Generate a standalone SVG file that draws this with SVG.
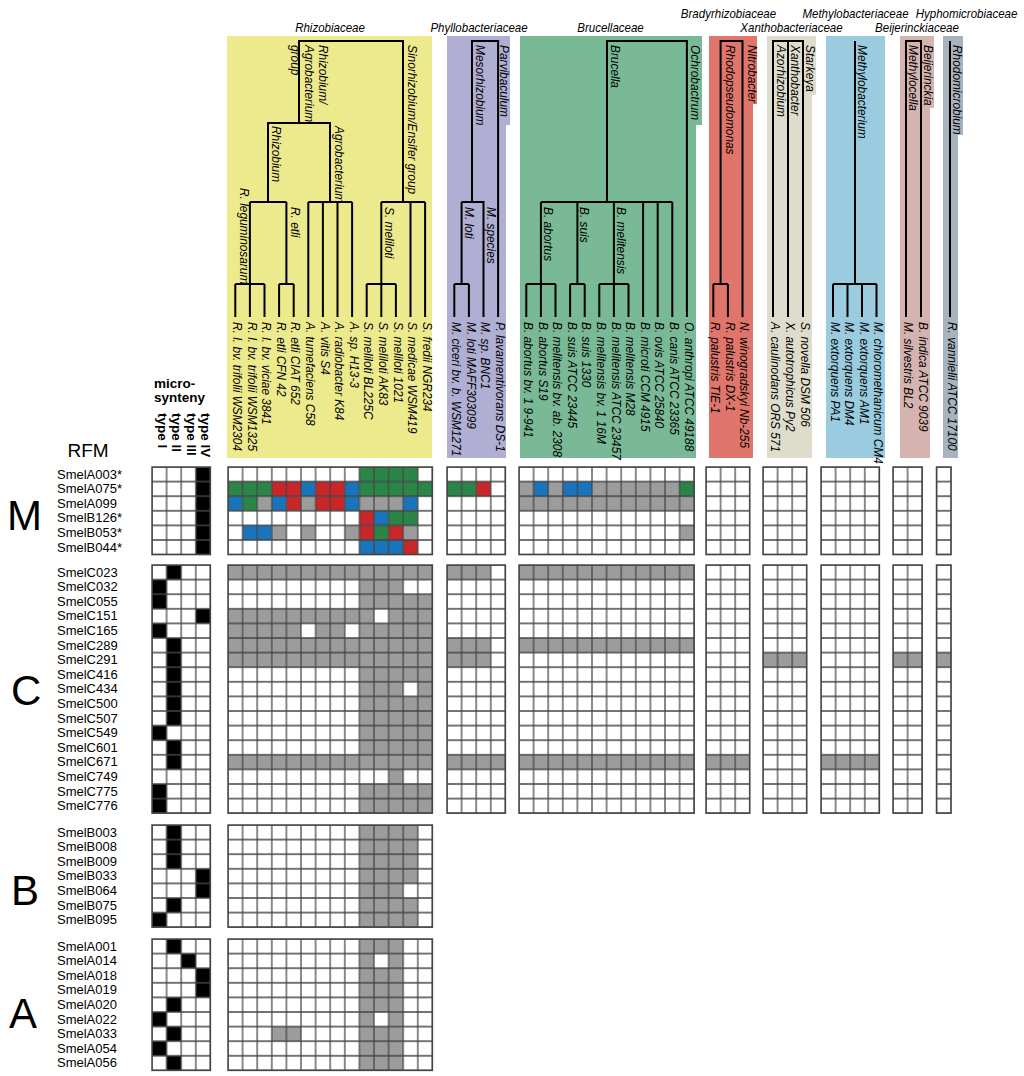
<svg xmlns="http://www.w3.org/2000/svg" width="1024" height="1076" viewBox="0 0 1024 1076">
<style>
.g{fill:#2a8646}.r{fill:#c9262a}.b{fill:#1a74bb}.y{fill:#9c9c9c}.k{fill:#000}.w{fill:#fff}
.grid{fill:url(#grid);stroke:#444;stroke-width:0.1}
.bg{fill:#fff}
.tree{fill:none;stroke:#000;stroke-width:2}
.it{font-family:"Liberation Sans",Arial,sans-serif;font-style:italic;font-size:13.2px;fill:#000}
.fam{font-family:"Liberation Sans",Arial,sans-serif;font-style:italic;font-size:12.8px;fill:#000;text-anchor:middle}
.row{font-family:"Liberation Sans",Arial,sans-serif;font-size:13px;fill:#000}
.bold{font-family:"Liberation Sans",Arial,sans-serif;font-weight:bold;font-size:13.5px;fill:#000}
.big{font-family:"Liberation Sans",Arial,sans-serif;font-size:42px;fill:#000}
</style>
<defs>
<pattern id="grid" width="1" height="1" patternUnits="userSpaceOnUse"><path d="M0 0H1V1H0Z" fill="none" stroke="#444" stroke-width="0.085"/></pattern>
</defs>
<rect width="1024" height="1076" fill="#fff"/>

<g id="boxes">
<path id="box-rhizo" d="M227 36H432V458H227Z" fill="#ede98d"/>
<path id="box-phyllo" d="M447 36H510V125H506V458H447Z" fill="#b0aed2"/>
<path id="box-bruc" d="M520 36H702V125H696V458H520Z" fill="#79b996"/>
<path id="box-brady" d="M709 36H757V104H753V458H709Z" fill="#e0766b"/>
<path id="box-xantho" d="M767 36H816V95H812V458H767Z" fill="#deddcb"/>
<path id="box-methylo" d="M826 36H885V458H826Z" fill="#9acbde"/>
<path id="box-beijer" d="M900 36H934V108H930V458H900Z" fill="#d5b4b0"/>
<path id="box-hypho" d="M943 36H963V135H958V458H943Z" fill="#a7b4be"/>
</g>

<g id="family-labels">
<text class="fam" transform="translate(330,32) scale(0.9,1)">Rhizobiaceae</text>
<text class="fam" transform="translate(479,32) scale(0.9,1)">Phyllobacteriaceae</text>
<text class="fam" transform="translate(610.5,32) scale(0.9,1)">Brucellaceae</text>
<text class="fam" transform="translate(728.5,18) scale(0.9,1)">Bradyrhizobiaceae</text>
<text class="fam" transform="translate(791.5,32) scale(0.9,1)">Xanthobacteriaceae</text>
<text class="fam" transform="translate(855.5,18) scale(0.9,1)">Methylobacteriaceae</text>
<text class="fam" transform="translate(966.5,18) scale(0.9,1)">Hyphomicrobiaceae</text>
<text class="fam" transform="translate(917,32) scale(0.9,1)">Beijerinckiaceae</text>
</g>

<g id="connectors" class="tree">
<path d="M299 123V41H403V202"/>
<path d="M268 202V123H330V202"/>
<path d="M249.9 202H286.4M249.9 202V317M235.3 284H264.5M235.3 284V317M264.5 284V317"/>
<path d="M286.4 202V284M279.1 284H293.7M279.1 284V317M293.7 284V317"/>
<path d="M308.3 202H352.1M308.3 202V317M322.9 202V317M337.5 202V317M352.1 202V317"/>
<path d="M381.3 202H425.1M381.3 202V317M366.7 284H395.9M366.7 284V317M395.9 284V317M410.5 202V317M425.1 202V317"/>
<path d="M472 202V41H498.1V317M461.6 202H483.5V317M461.6 202V284M454.3 284H468.9M454.3 284V317M468.9 284V317"/>
<path d="M607 202V41H686.9V317M540.9 202H672.3"/>
<path d="M540.9 202V317M526.3 284H555.5M526.3 284V317M555.5 284V317"/>
<path d="M577.4 202V284M570.1 284H584.7M570.1 284V317M584.7 284V317"/>
<path d="M613.9 202V317M599.3 284H628.5M599.3 284V317M628.5 284V317"/>
<path d="M643.1 202V317M657.7 202V317M672.3 202V317"/>
<path d="M720.6 284V41H742.5V317M713.3 284H727.9M713.3 284V317M727.9 284V317"/>
<path d="M773 317V41H803V317M788 41V317"/>
<path d="M855 41V284M833 284H876.5M833 284V317M847.5 284V317M862 284V317M876.5 284V317"/>
<path d="M906 317V41H921V317"/>
<path d="M950 41V317"/>
</g>

<g id="clade-labels">
<text class="it" transform="translate(319,45) rotate(90) scale(0.9,1)">Rhizobium/</text>
<text class="it" transform="translate(305,45) rotate(90) scale(0.9,1)">Agrobacterium</text>
<text class="it" transform="translate(291,45) rotate(90) scale(0.9,1)">group</text>
<text class="it" transform="translate(407.5,45) rotate(90) scale(0.9,1)">Sinorhizobium/Ensifer group</text>
<text class="it" transform="translate(271.5,126) rotate(90) scale(0.9,1)">Rhizobium</text>
<text class="it" transform="translate(335,126) rotate(90) scale(0.9,1)">Agrobacterium</text>
<text class="it" transform="translate(240,188) rotate(90) scale(0.9,1)">R. leguminosarum</text>
<text class="it" transform="translate(290.5,207) rotate(90) scale(0.9,1)">R. etli</text>
<text class="it" transform="translate(384.5,207) rotate(90) scale(0.9,1)">S. meliloti</text>
<text class="it" transform="translate(476,45) rotate(90) scale(0.9,1)">Mesorhizobium</text>
<text class="it" transform="translate(500,45) rotate(90) scale(0.9,1)">Parvibaculum</text>
<text class="it" transform="translate(465,207) rotate(90) scale(0.9,1)">M. loti</text>
<text class="it" transform="translate(486.5,207) rotate(90) scale(0.9,1)">M. species</text>
<text class="it" transform="translate(610.5,45) rotate(90) scale(0.9,1)">Brucella</text>
<text class="it" transform="translate(691,45) rotate(90) scale(0.9,1)">Ochrobactrum</text>
<text class="it" transform="translate(544,207) rotate(90) scale(0.9,1)">B. abortus</text>
<text class="it" transform="translate(580,207) rotate(90) scale(0.9,1)">B. suis</text>
<text class="it" transform="translate(617,207) rotate(90) scale(0.9,1)">B. melitensis</text>
<text class="it" transform="translate(725.5,45) rotate(90) scale(0.9,1)">Rhodopseudomonas</text>
<text class="it" transform="translate(748,45) rotate(90) scale(0.9,1)">Nitrobacter</text>
<text class="it" transform="translate(777,45) rotate(90) scale(0.9,1)">Azorhizobium</text>
<text class="it" transform="translate(791,45) rotate(90) scale(0.9,1)">Xanthobacter</text>
<text class="it" transform="translate(806,45) rotate(90) scale(0.9,1)">Starkeya</text>
<text class="it" transform="translate(858,45) rotate(90) scale(0.9,1)">Methylobacterium</text>
<text class="it" transform="translate(909,45) rotate(90) scale(0.9,1)">Methylocella</text>
<text class="it" transform="translate(924,45) rotate(90) scale(0.9,1)">Beijerinckia</text>
<text class="it" transform="translate(953,45) rotate(90) scale(0.9,1)">Rhodomicrobium</text>
</g>

<g id="leaf-labels">
<text class="it" transform="translate(233,322) rotate(90) scale(0.9,1)">R. l. bv. trifolii WSM2304</text>
<text class="it" transform="translate(247.6,322) rotate(90) scale(0.9,1)">R. l. bv. trifolii WSM1325</text>
<text class="it" transform="translate(262.2,322) rotate(90) scale(0.9,1)">R. l. bv. viciae 3841</text>
<text class="it" transform="translate(276.8,322) rotate(90) scale(0.9,1)">R. etli CFN 42</text>
<text class="it" transform="translate(291.4,322) rotate(90) scale(0.9,1)">R. etli CIAT 652</text>
<text class="it" transform="translate(306,322) rotate(90) scale(0.9,1)">A. tumefaciens C58</text>
<text class="it" transform="translate(320.6,322) rotate(90) scale(0.9,1)">A. vitis S4</text>
<text class="it" transform="translate(335.2,322) rotate(90) scale(0.9,1)">A. radiobacter K84</text>
<text class="it" transform="translate(349.8,322) rotate(90) scale(0.9,1)">A. sp. H13-3</text>
<text class="it" transform="translate(364.4,322) rotate(90) scale(0.9,1)">S. meliloti BL225C</text>
<text class="it" transform="translate(379,322) rotate(90) scale(0.9,1)">S. meliloti AK83</text>
<text class="it" transform="translate(393.6,322) rotate(90) scale(0.9,1)">S. meliloti 1021</text>
<text class="it" transform="translate(408.2,322) rotate(90) scale(0.9,1)">S. medicae WSM419</text>
<text class="it" transform="translate(422.8,322) rotate(90) scale(0.9,1)">S. fredii NGR234</text>
<text class="it" transform="translate(452,322) rotate(90) scale(0.9,1)">M. ciceri bv. b. WSM1271</text>
<text class="it" transform="translate(466.6,322) rotate(90) scale(0.9,1)">M. loti MAFF303099</text>
<text class="it" transform="translate(481.2,322) rotate(90) scale(0.9,1)">M. sp. BNC1</text>
<text class="it" transform="translate(495.8,322) rotate(90) scale(0.9,1)">P. lavamentivorans DS-1</text>
<text class="it" transform="translate(524,322) rotate(90) scale(0.9,1)">B. abortus bv. 1 9-941</text>
<text class="it" transform="translate(538.6,322) rotate(90) scale(0.9,1)">B. abortus S19</text>
<text class="it" transform="translate(553.2,322) rotate(90) scale(0.9,1)">B. melitensis bv. ab. 2308</text>
<text class="it" transform="translate(567.8,322) rotate(90) scale(0.9,1)">B. suis ATCC 23445</text>
<text class="it" transform="translate(582.4,322) rotate(90) scale(0.9,1)">B. suis 1330</text>
<text class="it" transform="translate(597,322) rotate(90) scale(0.9,1)">B. melitensis bv. 1 16M</text>
<text class="it" transform="translate(611.6,322) rotate(90) scale(0.9,1)">B. melitensis ATCC 23457</text>
<text class="it" transform="translate(626.2,322) rotate(90) scale(0.9,1)">B. melitensis M28</text>
<text class="it" transform="translate(640.8,322) rotate(90) scale(0.9,1)">B. microti CCM 4915</text>
<text class="it" transform="translate(655.4,322) rotate(90) scale(0.9,1)">B. ovis ATCC 25840</text>
<text class="it" transform="translate(670,322) rotate(90) scale(0.9,1)">B. canis ATCC 23365</text>
<text class="it" transform="translate(684.6,322) rotate(90) scale(0.9,1)">O. anthropi ATCC 49188</text>
<text class="it" transform="translate(711,322) rotate(90) scale(0.9,1)">R. palustris TIE-1</text>
<text class="it" transform="translate(725.6,322) rotate(90) scale(0.9,1)">R. palustris DX-1</text>
<text class="it" transform="translate(740.2,322) rotate(90) scale(0.9,1)">N. winogradskyi Nb-255</text>
<text class="it" transform="translate(770.7,322) rotate(90) scale(0.9,1)">A. caulinodans ORS 571</text>
<text class="it" transform="translate(785.7,322) rotate(90) scale(0.9,1)">X. autotrophicus Py2</text>
<text class="it" transform="translate(800.7,322) rotate(90) scale(0.9,1)">S. novella DSM 506</text>
<text class="it" transform="translate(830.7,322) rotate(90) scale(0.9,1)">M. extorquens PA1</text>
<text class="it" transform="translate(845.2,322) rotate(90) scale(0.9,1)">M. extorquens DM4</text>
<text class="it" transform="translate(859.7,322) rotate(90) scale(0.9,1)">M. extorquens AM1</text>
<text class="it" transform="translate(874.2,322) rotate(90) scale(0.9,1)">M. chloromethanicum CM4</text>
<text class="it" transform="translate(903.7,322) rotate(90) scale(0.9,1)">M. silvestris BL2</text>
<text class="it" transform="translate(918.7,322) rotate(90) scale(0.9,1)">B. indica ATCC 9039</text>
<text class="it" transform="translate(947.7,322) rotate(90) scale(0.9,1)">R. vannielii ATCC 17100</text>
</g>

<g id="headers">
<text class="bold" x="154" y="388">micro-</text>
<text class="bold" x="154" y="402">synteny</text>
<text class="bold" transform="translate(157.5,413) rotate(90)">type I</text>
<text class="bold" transform="translate(172,413) rotate(90)">type II</text>
<text class="bold" transform="translate(186.5,413) rotate(90)">type III</text>
<text class="bold" transform="translate(201,413) rotate(90)">type IV</text>
<text class="row" x="88" y="457" style="font-size:19px" text-anchor="middle">RFM</text>
<text class="big" x="7" y="530">M</text>
<text class="big" x="11" y="705">C</text>
<text class="big" x="11" y="905">B</text>
<text class="big" x="9" y="1028">A</text>
</g>

<g id="row-labels">
<text class="row" x="57" y="478.5">SmelA003*</text>
<text class="row" x="57" y="493.1">SmelA075*</text>
<text class="row" x="57" y="507.7">SmelA099</text>
<text class="row" x="57" y="522.3">SmelB126*</text>
<text class="row" x="57" y="536.9">SmelB053*</text>
<text class="row" x="57" y="551.5">SmelB044*</text>
<text class="row" x="57" y="576.5">SmelC023</text>
<text class="row" x="57" y="591.1">SmelC032</text>
<text class="row" x="57" y="605.7">SmelC055</text>
<text class="row" x="57" y="620.3">SmelC151</text>
<text class="row" x="57" y="634.9">SmelC165</text>
<text class="row" x="57" y="649.5">SmelC289</text>
<text class="row" x="57" y="664.1">SmelC291</text>
<text class="row" x="57" y="678.7">SmelC416</text>
<text class="row" x="57" y="693.3">SmelC434</text>
<text class="row" x="57" y="707.9">SmelC500</text>
<text class="row" x="57" y="722.5">SmelC507</text>
<text class="row" x="57" y="737.1">SmelC549</text>
<text class="row" x="57" y="751.7">SmelC601</text>
<text class="row" x="57" y="766.3">SmelC671</text>
<text class="row" x="57" y="780.9">SmelC749</text>
<text class="row" x="57" y="795.5">SmelC775</text>
<text class="row" x="57" y="810.1">SmelC776</text>
<text class="row" x="57" y="836.5">SmelB003</text>
<text class="row" x="57" y="851.1">SmelB008</text>
<text class="row" x="57" y="865.7">SmelB009</text>
<text class="row" x="57" y="880.3">SmelB033</text>
<text class="row" x="57" y="894.9">SmelB064</text>
<text class="row" x="57" y="909.5">SmelB075</text>
<text class="row" x="57" y="924.1">SmelB095</text>
<text class="row" x="57" y="950.5">SmelA001</text>
<text class="row" x="57" y="965.1">SmelA014</text>
<text class="row" x="57" y="979.7">SmelA018</text>
<text class="row" x="57" y="994.3">SmelA019</text>
<text class="row" x="57" y="1008.9">SmelA020</text>
<text class="row" x="57" y="1023.5">SmelA022</text>
<text class="row" x="57" y="1038.1">SmelA033</text>
<text class="row" x="57" y="1052.7">SmelA054</text>
<text class="row" x="57" y="1067.3">SmelA056</text>
</g>

<g id="M-micro" transform="translate(152,467) scale(14.6)"><rect class="bg" width="4" height="6"/><rect class="k" x="3" width="1" height="6"/><rect class="grid" width="4" height="6"/></g>
<g id="M-rhizo" transform="translate(228,467) scale(14.6)"><rect class="bg" width="14" height="6"/>
<rect class="g" x="9" y="0" width="4" height="1"/>
<rect class="g" x="0" y="1" width="3" height="1"/><rect class="r" x="3" y="1" width="2" height="1"/><rect class="b" x="5" y="1" width="1" height="1"/><rect class="r" x="6" y="1" width="2" height="1"/><rect class="b" x="8" y="1" width="1" height="1"/><rect class="g" x="9" y="1" width="5" height="1"/>
<rect class="b" x="0" y="2" width="1" height="1"/><rect class="g" x="1" y="2" width="1" height="1"/><rect class="y" x="2" y="2" width="1" height="1"/><rect class="b" x="3" y="2" width="1" height="1"/><rect class="r" x="4" y="2" width="1" height="1"/><rect class="y" x="5" y="2" width="1" height="1"/><rect class="r" x="6" y="2" width="2" height="1"/><rect class="b" x="8" y="2" width="1" height="1"/><rect class="y" x="9" y="2" width="3" height="1"/><rect class="b" x="12" y="2" width="1" height="1"/>
<rect class="r" x="9" y="3" width="1" height="1"/><rect class="b" x="10" y="3" width="1" height="1"/><rect class="g" x="11" y="3" width="2" height="1"/>
<rect class="b" x="1" y="4" width="2" height="1"/><rect class="y" x="3" y="4" width="1" height="1"/><rect class="y" x="5" y="4" width="1" height="1"/><rect class="y" x="8" y="4" width="1" height="1"/><rect class="r" x="9" y="4" width="1" height="1"/><rect class="g" x="10" y="4" width="1" height="1"/><rect class="r" x="11" y="4" width="1" height="1"/><rect class="y" x="12" y="4" width="1" height="1"/>
<rect class="b" x="9" y="5" width="3" height="1"/><rect class="r" x="12" y="5" width="1" height="1"/>
<rect class="grid" width="14" height="6"/></g>
<g id="M-phyllo" transform="translate(447,467) scale(14.6)"><rect class="bg" width="4" height="6"/><rect class="g" x="0" y="1" width="2" height="1"/><rect class="r" x="2" y="1" width="1" height="1"/><rect class="grid" width="4" height="6"/></g>
<g id="M-bruc" transform="translate(519,467) scale(14.6)"><rect class="bg" width="12" height="6"/><rect class="y" x="0" y="1" width="12" height="2"/><rect class="b" x="1" y="1" width="1" height="1"/><rect class="b" x="3" y="1" width="2" height="1"/><rect class="g" x="11" y="1" width="1" height="1"/><rect class="y" x="11" y="4" width="1" height="1"/><rect class="grid" width="12" height="6"/></g>
<g id="M-brady" transform="translate(706,467) scale(14.6)"><rect class="bg" width="3" height="6"/><rect class="grid" width="3" height="6"/></g>
<g id="M-xantho" transform="translate(763,467) scale(14.6)"><rect class="bg" width="3" height="6"/><rect class="grid" width="3" height="6"/></g>
<g id="M-methylo" transform="translate(821,467) scale(14.6)"><rect class="bg" width="4" height="6"/><rect class="grid" width="4" height="6"/></g>
<g id="M-beijer" transform="translate(893,467) scale(14.6)"><rect class="bg" width="2" height="6"/><rect class="grid" width="2" height="6"/></g>
<g id="M-hypho" transform="translate(936.5,467) scale(14.6)"><rect class="bg" width="1" height="6"/><rect class="grid" width="1" height="6"/></g>

<g id="C-micro" transform="translate(152,565) scale(14.6)"><rect class="bg" width="4" height="17"/>
<rect class="k" x="1" y="0" width="1" height="1"/><rect class="k" x="0" y="1" width="1" height="2"/><rect class="k" x="3" y="3" width="1" height="1"/><rect class="k" x="0" y="4" width="1" height="1"/><rect class="k" x="1" y="5" width="1" height="6"/><rect class="k" x="0" y="11" width="1" height="1"/><rect class="k" x="1" y="12" width="1" height="2"/><rect class="k" x="0" y="15" width="1" height="2"/>
<rect class="grid" width="4" height="17"/></g>
<g id="C-rhizo" transform="translate(228,565) scale(14.6)"><rect class="bg" width="14" height="17"/>
<rect class="y" x="0" y="0" width="14" height="1"/><rect class="y" x="9" y="1" width="3" height="1"/><rect class="y" x="9" y="2" width="5" height="1"/><rect class="y" x="0" y="3" width="10" height="1"/><rect class="y" x="11" y="3" width="3" height="1"/><rect class="y" x="0" y="4" width="5" height="1"/><rect class="y" x="6" y="4" width="2" height="1"/><rect class="y" x="9" y="4" width="5" height="1"/><rect class="y" x="0" y="5" width="14" height="2"/><rect class="y" x="9" y="7" width="5" height="6"/><rect class="w" x="12" y="8" width="1" height="1"/><rect class="y" x="0" y="13" width="14" height="1"/><rect class="y" x="11" y="14" width="1" height="1"/><rect class="y" x="9" y="15" width="5" height="2"/>
<rect class="grid" width="14" height="17"/></g>
<g id="C-phyllo" transform="translate(447,565) scale(14.6)"><rect class="bg" width="4" height="17"/><rect class="y" x="0" y="0" width="3" height="1"/><rect class="y" x="0" y="5" width="3" height="2"/><rect class="y" x="0" y="13" width="4" height="1"/><rect class="grid" width="4" height="17"/></g>
<g id="C-bruc" transform="translate(519,565) scale(14.6)"><rect class="bg" width="12" height="17"/><rect class="y" x="0" y="0" width="12" height="1"/><rect class="y" x="0" y="5" width="12" height="1"/><rect class="y" x="0" y="13" width="12" height="1"/><rect class="grid" width="12" height="17"/></g>
<g id="C-brady" transform="translate(706,565) scale(14.6)"><rect class="bg" width="3" height="17"/><rect class="y" x="0" y="13" width="3" height="1"/><rect class="grid" width="3" height="17"/></g>
<g id="C-xantho" transform="translate(763,565) scale(14.6)"><rect class="bg" width="3" height="17"/><rect class="y" x="0" y="6" width="3" height="1"/><rect class="grid" width="3" height="17"/></g>
<g id="C-methylo" transform="translate(821,565) scale(14.6)"><rect class="bg" width="4" height="17"/><rect class="y" x="0" y="13" width="4" height="1"/><rect class="grid" width="4" height="17"/></g>
<g id="C-beijer" transform="translate(893,565) scale(14.6)"><rect class="bg" width="2" height="17"/><rect class="y" x="0" y="6" width="2" height="1"/><rect class="grid" width="2" height="17"/></g>
<g id="C-hypho" transform="translate(936.5,565) scale(14.6)"><rect class="bg" width="1" height="17"/><rect class="y" x="0" y="6" width="1" height="1"/><rect class="grid" width="1" height="17"/></g>

<g id="B-micro" transform="translate(152,825) scale(14.6)"><rect class="bg" width="4" height="7"/><rect class="k" x="1" y="0" width="1" height="3"/><rect class="k" x="3" y="3" width="1" height="2"/><rect class="k" x="1" y="5" width="1" height="1"/><rect class="k" x="0" y="6" width="1" height="1"/><rect class="grid" width="4" height="7"/></g>
<g id="B-rhizo" transform="translate(228,825) scale(14.6)"><rect class="bg" width="14" height="7"/><rect class="y" x="9" y="0" width="4" height="7"/><rect class="w" x="12" y="4" width="1" height="1"/><rect class="grid" width="14" height="7"/></g>

<g id="A-micro" transform="translate(152,939) scale(14.6)"><rect class="bg" width="4" height="9"/><rect class="k" x="1" y="0" width="1" height="1"/><rect class="k" x="2" y="1" width="1" height="1"/><rect class="k" x="3" y="2" width="1" height="2"/><rect class="k" x="1" y="4" width="1" height="1"/><rect class="k" x="0" y="5" width="1" height="1"/><rect class="k" x="1" y="6" width="1" height="1"/><rect class="k" x="0" y="7" width="1" height="1"/><rect class="k" x="1" y="8" width="1" height="1"/><rect class="grid" width="4" height="9"/></g>
<g id="A-rhizo" transform="translate(228,939) scale(14.6)"><rect class="bg" width="14" height="9"/><rect class="y" x="9" y="0" width="3" height="9"/><rect class="w" x="10" y="1" width="1" height="1"/><rect class="w" x="10" y="5" width="1" height="1"/><rect class="y" x="3" y="6" width="2" height="1"/><rect class="grid" width="14" height="9"/></g>
</svg>
